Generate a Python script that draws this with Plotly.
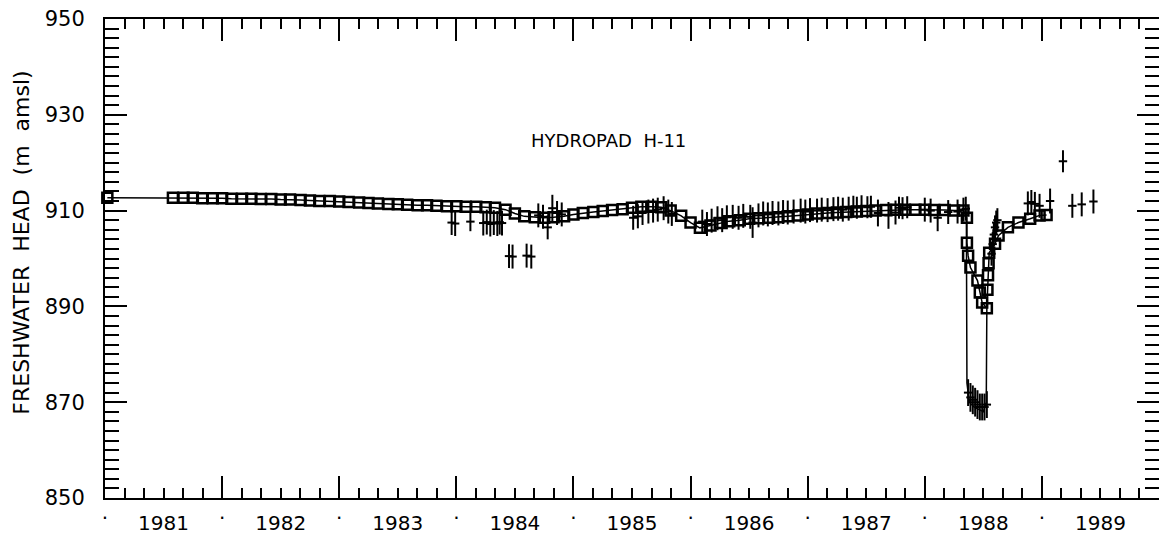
import plotly.graph_objects as go

# ---------------- data ----------------
model_years = [
    1981.02, 1981.58, 1981.67, 1981.75, 1981.83, 1981.92,
    1982.00, 1982.08, 1982.17, 1982.25, 1982.33, 1982.42, 1982.50, 1982.58, 1982.67, 1982.75, 1982.83, 1982.92,
    1983.00, 1983.08, 1983.17, 1983.25, 1983.33, 1983.42, 1983.50, 1983.58, 1983.67, 1983.75, 1983.83, 1983.92,
    1984.00, 1984.08, 1984.17, 1984.25, 1984.33, 1984.42, 1984.50, 1984.58, 1984.67, 1984.75, 1984.83, 1984.92,
    1985.00, 1985.08, 1985.17, 1985.25, 1985.33, 1985.42, 1985.50, 1985.58, 1985.67, 1985.75, 1985.83, 1985.92,
    1986.00, 1986.08, 1986.17, 1986.25, 1986.33, 1986.42, 1986.50, 1986.58, 1986.67, 1986.75, 1986.83, 1986.92,
    1987.00, 1987.08, 1987.17, 1987.25, 1987.33, 1987.42, 1987.50, 1987.58, 1987.67, 1987.75, 1987.83, 1987.92,
    1988.00, 1988.08, 1988.17, 1988.25, 1988.33,
    1988.36, 1988.36, 1988.37, 1988.39, 1988.45, 1988.47, 1988.49, 1988.53,
    1988.535, 1988.54, 1988.545, 1988.55, 1988.60, 1988.63, 1988.71, 1988.80, 1988.90, 1988.98, 1989.04,
]
model_head = [
    912.7, 912.7, 912.7, 912.7, 912.6, 912.6,
    912.6, 912.5, 912.5, 912.5, 912.4, 912.4, 912.3, 912.3, 912.2, 912.1, 912.0, 912.0,
    911.9, 911.8, 911.7, 911.6, 911.5, 911.4, 911.3, 911.2, 911.1, 911.1, 911.0, 910.9,
    910.9, 910.8, 910.8, 910.7, 910.6, 910.2, 909.4, 908.8, 908.6, 908.5, 908.6, 908.8,
    909.2, 909.5, 909.7, 909.9, 910.1, 910.3, 910.6, 910.8, 910.8, 910.7, 910.0, 908.9,
    907.5, 906.4, 906.9, 907.4, 907.8, 908.0, 908.3, 908.4, 908.5, 908.6, 908.8, 909.0,
    909.2, 909.4, 909.5, 909.6, 909.7, 909.8, 909.9, 910.0, 910.1, 910.2, 910.2, 910.2,
    910.2, 910.1, 910.1, 910.0, 910.0,
    908.5, 903.3, 900.6, 898.1, 895.4, 892.9, 890.8, 889.6,
    893.5, 896.5, 899.0, 901.2, 903.1, 904.8, 906.5, 907.5, 908.3, 909.0, 909.1,
]

# thin drawdown trace during the 1988 pumping test
drawdown_years = [1988.355, 1988.36, 1988.38, 1988.42, 1988.46, 1988.50, 1988.525, 1988.53]
drawdown_head = [909.8, 874.0, 870.0, 869.0, 868.5, 868.0, 870.0, 889.6]

# observed heads with uncertainty bars
obs_years = [
    1983.96, 1983.99, 1984.12, 1984.23, 1984.26, 1984.29, 1984.32, 1984.35, 1984.37, 1984.39,
    1984.45, 1984.48, 1984.60, 1984.64,
    1984.70, 1984.74, 1984.78, 1984.82, 1984.86, 1984.90,
    1985.51, 1985.55, 1985.59, 1985.64, 1985.68, 1985.72, 1985.77, 1985.81, 1985.84,
    1986.10, 1986.14, 1986.18, 1986.23, 1986.27, 1986.31, 1986.36, 1986.41, 1986.45, 1986.51,
    1986.53, 1986.58, 1986.62, 1986.66, 1986.70, 1986.75, 1986.79, 1986.83, 1986.88, 1986.94,
    1986.98, 1987.02, 1987.08, 1987.12, 1987.17, 1987.22, 1987.26, 1987.30, 1987.35,
    1987.39, 1987.42, 1987.46, 1987.51, 1987.54, 1987.60, 1987.69, 1987.75, 1987.78, 1987.81,
    1987.85, 1988.00, 1988.05, 1988.11, 1988.20, 1988.28, 1988.33, 1988.35,
    1988.37, 1988.39, 1988.41, 1988.43, 1988.45, 1988.47, 1988.49, 1988.51, 1988.53,
    1988.57, 1988.58, 1988.59, 1988.60, 1988.61, 1988.62,
    1988.88, 1988.91, 1988.94, 1988.98, 1989.07, 1989.18, 1989.26, 1989.34, 1989.44,
]
obs_head = [
    907.5, 907.3, 907.7, 907.4, 907.6, 907.2, 907.5, 907.3, 907.6, 907.4,
    900.5, 900.4, 900.6, 900.4,
    909.0, 908.7, 906.5, 910.5, 909.5, 909.2,
    908.5, 908.8, 909.5, 909.8, 910.0, 910.2, 910.5, 909.8, 909.3,
    907.7, 907.2, 907.9, 908.4, 908.0, 908.6, 908.7, 908.5, 908.9, 908.7,
    907.5, 909.0, 909.4, 909.2, 909.5, 909.4, 909.7, 909.6, 909.8, 910.0,
    909.8, 910.1, 910.0, 910.2, 910.1, 910.3, 910.4, 910.2, 910.4,
    910.8, 910.6, 910.9, 910.7, 910.8, 909.5, 909.0, 909.6, 910.6, 910.5,
    910.7, 910.2, 910.0, 908.5, 909.7, 909.8, 910.2, 910.4,
    872.0, 871.0, 870.5, 870.0, 869.5, 869.0, 869.0, 869.0, 869.5,
    901.0, 903.0, 905.0, 906.5, 907.5, 908.0,
    911.5, 911.8, 911.4, 911.0, 912.0, 920.3, 911.0, 911.3, 911.9,
]
obs_err = [
    2.6, 2.6, 2.0, 2.6, 2.6, 2.6, 2.6, 2.6, 2.6, 2.6,
    2.5, 2.5, 2.5, 2.5,
    2.5, 2.5, 2.5, 2.8, 2.5, 2.5,
    2.5, 2.5, 2.5, 2.5, 2.5, 2.5, 2.5, 2.5, 2.5,
    2.5, 2.5, 2.5, 2.5, 2.5, 2.5, 2.5, 2.5, 2.5, 2.5,
    3.2, 2.5, 2.5, 2.5, 2.5, 2.5, 2.5, 2.5, 2.5, 2.5,
    2.5, 2.5, 2.5, 2.5, 2.5, 2.5, 2.5, 2.5, 2.5,
    2.3, 2.3, 2.3, 2.3, 2.3, 2.8, 2.8, 2.5, 2.3, 2.3,
    2.3, 2.5, 2.5, 2.8, 2.5, 2.5, 2.5, 2.5,
    2.8, 3.0, 3.0, 3.0, 3.0, 2.8, 2.8, 2.8, 2.8,
    2.5, 2.5, 2.5, 2.5, 2.5, 2.5,
    2.5, 2.5, 2.5, 2.5, 2.6, 2.3, 2.5, 2.5, 2.5,
]

year_labels = ["1981", "1982", "1983", "1984", "1985", "1986", "1987", "1988", "1989"]
year_starts = [1981, 1982, 1983, 1984, 1985, 1986, 1987, 1988, 1989]
year_mids = [1981.5, 1982.5, 1983.5, 1984.5, 1985.5, 1986.5, 1987.5, 1988.5, 1989.5]
head_ticks = [850, 870, 890, 910, 930, 950]

title_text = "HYDROPAD  H-11"
y_title = "FRESHWATER  HEAD  (m  amsl)"

# ---------------- figure ----------------
FONT = "DejaVu Sans, Liberation Sans, Arial, sans-serif"
fig = go.Figure()

fig.add_trace(go.Scatter(
    x=drawdown_years, y=drawdown_head, mode="lines",
    line=dict(color="black", width=1.5), showlegend=False, hoverinfo="skip",
))
fig.add_trace(go.Scatter(
    x=model_years, y=model_head, mode="lines+markers",
    line=dict(color="black", width=1.5),
    marker=dict(symbol="square-open", size=10, color="black", line=dict(width=2.5, color="black")),
    cliponaxis=False, showlegend=False,
))
fig.add_trace(go.Scatter(
    x=obs_years, y=obs_head, mode="markers", xaxis="x2",
    marker=dict(symbol="line-ew", size=6, color="black", line=dict(width=2, color="black")),
    error_y=dict(type="data", array=obs_err, visible=True, width=0, thickness=2, color="black"),
    showlegend=False,
))

fig.add_annotation(
    x=1985.30, y=924.6, xref="x", yref="y", text=title_text, showarrow=False,
    font=dict(family=FONT, size=18, color="black"),
)
# y-axis title (placed as rotated text left of the tick labels)
fig.add_annotation(
    x=0, y=903.3, xref="paper", yref="y", xshift=-83, xanchor="center", yanchor="middle",
    text=y_title, textangle=-90, showarrow=False,
    font=dict(family=FONT, size=22, color="black"),
)

# the page body adds an 8 px offset; the figure is sized to sit inside the window
fig.update_layout(
    width=1153, height=526,
    margin=dict(l=97, r=2, t=11, b=36, autoexpand=False),
    paper_bgcolor="white", plot_bgcolor="white",
    font=dict(family=FONT, color="black"),
    xaxis=dict(
        range=[1981, 1990], showgrid=False, zeroline=False, automargin=False,
        showline=True, linewidth=2, linecolor="black", mirror="ticks",
        tickmode="array", tickvals=year_mids, ticktext=year_labels,
        ticks="inside", ticklen=10, tickwidth=1.5, tickcolor="black",
        tickfont=dict(size=20, family=FONT), ticklabelstandoff=6,
        minor=dict(tickmode="linear", tick0=1981, dtick=1/6, ticks="inside",
                   ticklen=10, tickwidth=1.5, tickcolor="black", showgrid=False),
    ),
    xaxis2=dict(
        overlaying="x", matches="x", anchor="y", side="bottom", automargin=False,
        range=[1981, 1990], showgrid=False, zeroline=False, showline=False,
        mirror="ticks",
        tickmode="array", tickvals=year_starts, ticktext=["·"] * len(year_starts),
        ticks="inside", ticklen=22, tickwidth=1.5, tickcolor="black",
        tickfont=dict(size=20, family=FONT), ticklabelstandoff=6,
    ),
    yaxis=dict(
        range=[850, 950], showgrid=False, zeroline=False, automargin=False,
        showline=True, linewidth=2, linecolor="black", mirror="ticks",
        tickmode="array", tickvals=head_ticks, ticklabeloverflow="allow",
        ticks="inside", ticklen=22, tickwidth=1.5, tickcolor="black",
        tickfont=dict(size=21, family=FONT), ticklabelstandoff=14,
        minor=dict(tickmode="linear", tick0=850, dtick=2, ticks="inside",
                   ticklen=14, tickwidth=1.5, tickcolor="black", showgrid=False),
    ),
)

fig.write_html("out.html")
